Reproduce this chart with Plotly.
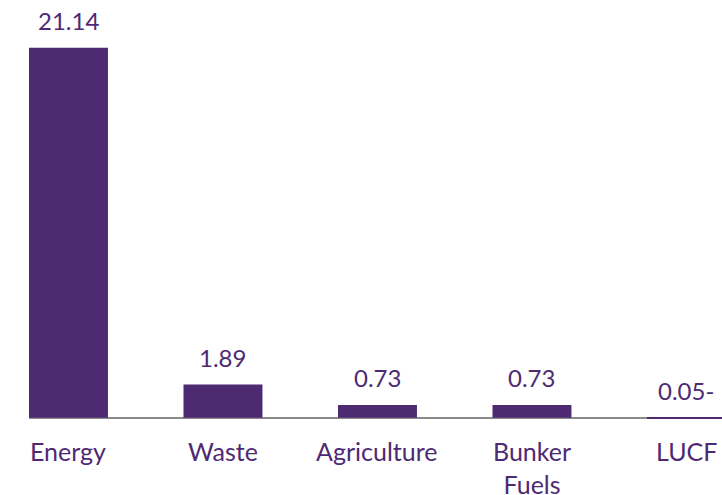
import plotly.graph_objects as go

categories = ["Energy", "Waste", "Agriculture", "Bunker Fuels", "LUCF"]
tick_labels = ["Energy", "Waste", "Agriculture", "Bunker<br>Fuels", "LUCF"]
values = [21.14, 1.89, 0.73, 0.73, -0.05]
value_labels = ["21.14", "1.89", "0.73", "0.73", "0.05-"]

PURPLE = "#4E2A73"
FONT = "Lato"
BAR_W = 0.511

fig = go.Figure()
fig.add_trace(go.Bar(
    x=categories, y=values, width=BAR_W,
    marker=dict(color=PURPLE, line=dict(width=0)),
    hoverinfo="skip",
))

for c, v, t in zip(categories, values, value_labels):
    fig.add_annotation(x=c, y=max(v, 0), xref="x", yref="y", text=t,
                       showarrow=False, yanchor="bottom", yshift=11,
                       font=dict(family=FONT, size=24, color=PURPLE))

for c, t in zip(categories, tick_labels):
    fig.add_annotation(x=c, y=0, xref="x", yref="y", text=t,
                       showarrow=False, yanchor="top", yshift=-16,
                       font=dict(family=FONT, size=25, color=PURPLE))

fig.update_layout(
    width=722, height=495,
    margin=dict(l=29, r=0, t=20, b=60),
    paper_bgcolor="white", plot_bgcolor="white",
    showlegend=False,
    xaxis=dict(range=[-BAR_W / 2, -BAR_W / 2 + 693 / 154.5],
               showticklabels=False, showgrid=False, zeroline=False,
               showline=False, ticks=""),
    yaxis=dict(range=[-0.99, 22.73], showticklabels=False, showgrid=False,
               zeroline=True, zerolinecolor="#8a8a8a", zerolinewidth=1.6,
               showline=False, ticks=""),
)

fig.write_html("out.html")
